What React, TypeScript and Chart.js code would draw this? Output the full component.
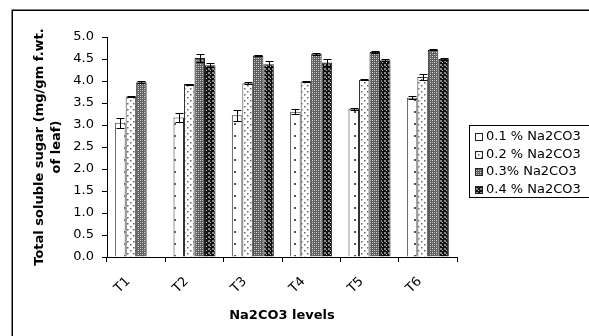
import React, { useEffect, useRef } from "react";
import { Chart, registerables } from "chart.js";

Chart.register(...registerables);

const categories = ["T1", "T2", "T3", "T4", "T5", "T6"];
const seriesLabels = ["0.1 % Na2CO3", "0.2 % Na2CO3", "0.3% Na2CO3", "0.4 % Na2CO3"];
const s01 = [3.05, 3.17, 3.22, 3.3, 3.37, 3.62];
const s02 = [3.65, 3.93, 3.95, 3.99, 4.03, 4.09];
const s03 = [3.97, 4.52, 4.58, 4.62, 4.66, 4.71];
const s04 = [0, 4.36, 4.38, 4.42, 4.47, 4.5];
const err01 = [0.11, 0.1, 0.12, 0.06, 0.02, 0.03];
const err02 = [0.02, 0.01, 0.02, 0.01, 0.01, 0.06];
const err03 = [0.02, 0.09, 0.02, 0.02, 0.02, 0.01];
const err04 = [0, 0.05, 0.07, 0.08, 0.02, 0.02];
const yTitle = ["Total soluble sugar (mg/gm f.wt.", "of leaf)"];
const xTitle = "Na2CO3 levels";

const FONT = "'DejaVu Sans', sans-serif";

function makePattern(w: number, h: number, draw: (c: CanvasRenderingContext2D) => void) {
  const cv = document.createElement("canvas");
  cv.width = w;
  cv.height = h;
  const c = cv.getContext("2d")!;
  draw(c);
  return c.createPattern(cv, "repeat")!;
}

export default function App() {
  const ref = useRef<HTMLCanvasElement>(null);
  useEffect(() => {
    const p1 = makePattern(10, 12, (c) => {
      c.fillStyle = "#fff"; c.fillRect(0, 0, 10, 12);
      c.fillStyle = "#555"; c.fillRect(4, 3, 2, 2);
    });
    const p2 = makePattern(6, 6, (c) => {
      c.fillStyle = "#fff"; c.fillRect(0, 0, 6, 6);
      c.fillStyle = "#666"; c.fillRect(1, 1, 1.5, 1.5); c.fillRect(4, 4, 1.5, 1.5);
    });
    const p3 = makePattern(4, 4, (c) => {
      c.fillStyle = "#5e5e5e"; c.fillRect(0, 0, 4, 4);
      c.fillStyle = "#ddd"; c.fillRect(0, 0, 1, 1); c.fillRect(2, 2, 1, 1);
      c.fillStyle = "#aaa"; c.fillRect(0, 2, 1, 1); c.fillRect(2, 0, 1, 1);
    });
    const p4 = makePattern(4, 4, (c) => {
      c.fillStyle = "#111"; c.fillRect(0, 0, 4, 4);
      c.fillStyle = "#888"; c.fillRect(0, 0, 2, 2);
      c.fillStyle = "#ccc"; c.fillRect(2, 2, 1, 1);
    });
    const patterns = [p1, p2, p3, p4];
    const values = [s01, s02, s03, s04];
    const errors = [err01, err02, err03, err04];

    const errorBars = {
      id: "errorBars",
      afterDatasetsDraw(chart: any) {
        const ctx = chart.ctx;
        const ys = chart.scales.y;
        ctx.save();
        ctx.strokeStyle = "#000";
        ctx.lineWidth = 1;
        chart.data.datasets.forEach((ds: any, i: number) => {
          const meta = chart.getDatasetMeta(i);
          meta.data.forEach((el: any, j: number) => {
            const v = values[i][j];
            const e = errors[i][j];
            const x = Math.round(el.x) + 0.5;
            const yt = Math.round(ys.getPixelForValue(v + e)) + 0.5;
            const yb = Math.round(ys.getPixelForValue(v - e)) + 0.5;
            const hw = 4;
            ctx.beginPath();
            ctx.moveTo(x, yt); ctx.lineTo(x, yb);
            ctx.moveTo(x - hw, yt); ctx.lineTo(x + hw, yt);
            ctx.moveTo(x - hw, yb); ctx.lineTo(x + hw, yb);
            ctx.stroke();
          });
        });
        ctx.restore();
      },
    };

    const frameAndLegend = {
      id: "frameAndLegend",
      afterDraw(chart: any) {
        const ctx = chart.ctx;
        ctx.save();
        ctx.strokeStyle = "#000";
        ctx.lineWidth = 1.5;
        ctx.strokeRect(12.25, 10.25, 700, 500);
        const bx = 469.5, by = 125.5, bw = 200, bh = 72;
        ctx.lineWidth = 1;
        ctx.strokeRect(bx, by, bw, bh);
        ctx.font = `13px ${FONT}`;
        ctx.textBaseline = "middle";
        ctx.textAlign = "left";
        chart.data.datasets.forEach((ds: any, i: number) => {
          const cy = 137 + i * 17.5;
          ctx.fillStyle = patterns[i];
          ctx.fillRect(475, Math.round(cy - 4), 8, 8);
          ctx.strokeStyle = "#222";
          ctx.strokeRect(475.5, Math.round(cy - 4) + 0.5, 7, 7);
          ctx.fillStyle = "#000";
          ctx.fillText(ds.label, 486, cy);
        });
        ctx.restore();
      },
    };

    const chart = new Chart(ref.current!, {
      type: "bar",
      data: {
        labels: categories,
        datasets: values.map((v, i) => ({
          label: seriesLabels[i],
          data: v,
          backgroundColor: patterns[i],
          borderColor: i < 2 ? "#333" : "#222",
          borderWidth: 1,
          barPercentage: 1,
          categoryPercentage: 0.72,
        })),
      },
      options: {
        responsive: false,
        animation: false,
        layout: { padding: { top: 37, right: 132, left: 0, bottom: 0 } },
        plugins: { legend: { display: false }, tooltip: { enabled: false } },
        scales: {
          x: {
            grid: { drawOnChartArea: false, drawTicks: true, tickLength: 5, color: "#000", offset: true },
            border: { display: true, color: "#000" },
            ticks: {
              color: "#000",
              font: { family: FONT, size: 13 },
              maxRotation: 45,
              minRotation: 45,
              padding: 12,
              labelOffset: -8,
            },
            title: {
              display: true,
              text: xTitle,
              color: "#000",
              font: { family: FONT, size: 13, weight: "bold" },
              padding: { top: 0, bottom: 12.5 },
            },
            afterFit(scale: any) { scale.height = 79; },
          },
          y: {
            min: 0,
            max: 5,
            grid: { drawOnChartArea: false, drawTicks: true, tickLength: 5, color: "#000" },
            border: { display: true, color: "#000" },
            ticks: {
              stepSize: 0.5,
              color: "#000",
              font: { family: FONT, size: 13 },
              padding: 8,
              callback: (v: any) => Number(v).toFixed(1),
            },
            title: {
              display: true,
              text: yTitle,
              color: "#000",
              font: { family: FONT, size: 13, weight: "bold", lineHeight: 17 / 13 },
              padding: { top: 31, bottom: 0 },
            },
            afterFit(scale: any) { scale.width = 107; },
          },
        },
      },
      plugins: [errorBars, frameAndLegend],
    } as any);
    return () => chart.destroy();
  }, []);

  return (
    <div style={{ position: "absolute", left: 0, top: 0, width: 589, height: 336, background: "#fff" }}>
      <canvas ref={ref} width={589} height={336} />
    </div>
  );
}
